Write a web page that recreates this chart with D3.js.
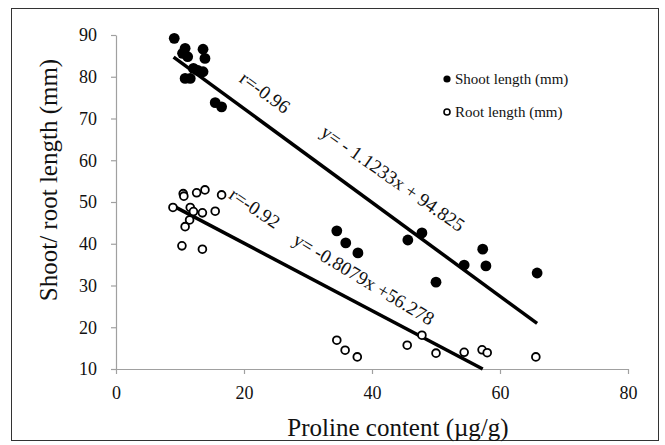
<!DOCTYPE html>
<html>
<head>
<meta charset="utf-8">
<script src="https://cdn.jsdelivr.net/npm/d3@7"></script>
<style>
  body { margin: 0; background: #fff; }
  svg text { font-family: "Liberation Serif", "Times New Roman", serif; fill: #111; }
</style>
</head>
<body>
<div id="chart"></div>
<script>
// shoot length (filled dots)
var shootX = [9.1, 10.8, 10.4, 11.2, 13.6, 13.9, 12.1, 12.8, 13.6, 10.8, 11.6, 15.5, 16.5,
  34.5, 35.9, 37.8, 45.6, 47.8, 50.0, 54.4, 57.3, 57.8, 65.8];
var shootY = [89.2, 86.8, 85.6, 84.8, 86.6, 84.4, 82.0, 81.5, 81.2, 79.6, 79.6, 73.8, 72.8,
  43.1, 40.2, 37.8, 40.9, 42.6, 30.8, 34.9, 38.7, 34.7, 33.0];
// root length (open circles)
var rootX = [8.9, 10.5, 10.6, 12.6, 13.9, 16.5, 11.6, 12.1, 13.5, 15.5, 11.5, 10.8, 10.3, 13.5,
  34.5, 35.8, 37.7, 45.5, 47.8, 50.0, 54.4, 57.2, 58.0, 65.6];
var rootY = [48.7, 52.0, 51.4, 52.2, 52.9, 51.7, 48.7, 47.7, 47.4, 47.8, 45.7, 44.1, 39.5, 38.7,
  16.9, 14.5, 12.9, 15.7, 18.1, 13.8, 14.0, 14.6, 13.9, 12.9];

var xTicks = [0, 20, 40, 60, 80];
var yTicks = [10, 20, 30, 40, 50, 60, 70, 80, 90];

// trend lines: y = a*x + b, drawn between x0 and x1
var shootFit = {a: -1.1233, b: 94.825, x0: 9, x1: 65.8};
var rootFit = {a: -0.8079, b: 56.278, x0: 9, x1: 57.3};

var width = 665, height = 445;
var svg = d3.select("#chart").append("svg").attr("width", width).attr("height", height);

svg.append("rect").attr("x", 11.5).attr("y", 8.5).attr("width", 647).attr("height", 432)
  .attr("fill", "none").attr("stroke", "#333").attr("stroke-width", 1);

var x = d3.scaleLinear().domain([0, 80]).range([116, 628]);
var y = d3.scaleLinear().domain([10, 90]).range([369, 35]);

var gx = svg.append("g").attr("transform", "translate(0," + y(10) + ")")
  .call(d3.axisBottom(x).tickValues(xTicks).tickSize(5).tickSizeOuter(0).tickPadding(12));
var gy = svg.append("g").attr("transform", "translate(" + x(0) + ",0)")
  .call(d3.axisLeft(y).tickValues(yTicks).tickSize(5).tickSizeOuter(0).tickPadding(14));
[gx, gy].forEach(function (g) {
  g.attr("font-family", "Liberation Serif").attr("font-size", 18);
  g.selectAll("path, line").attr("stroke", "#a0a0a0").attr("stroke-width", 1.2);
  g.selectAll("text").attr("fill", "#222");
});

// trend lines
[shootFit, rootFit].forEach(function (f) {
  svg.append("line")
    .attr("x1", x(f.x0)).attr("y1", y(f.a * f.x0 + f.b))
    .attr("x2", x(f.x1)).attr("y2", y(f.a * f.x1 + f.b))
    .attr("stroke", "#000").attr("stroke-width", 3.5);
});

svg.append("g").selectAll("circle").data(d3.range(shootX.length)).enter().append("circle")
  .attr("cx", function (i) { return x(shootX[i]); })
  .attr("cy", function (i) { return y(shootY[i]); })
  .attr("r", 5.4).attr("fill", "#000");

svg.append("g").selectAll("circle").data(d3.range(rootX.length)).enter().append("circle")
  .attr("cx", function (i) { return x(rootX[i]); })
  .attr("cy", function (i) { return y(rootY[i]); })
  .attr("r", 3.9).attr("fill", "#fff").attr("stroke", "#000").attr("stroke-width", 1.8);

// annotations along the lines
var notes = [
  {t: "r=-0.96", dx: 23.3, dy: 76.3, rot: 36},
  {t: "y= - 1.1233x + 94.825", dx: 43.3, dy: 55.7, rot: 35},
  {t: "r=-0.92", dx: 21.7, dy: 48.6, rot: 34},
  {t: "y= -0.8079x +56.278", dx: 38.75, dy: 31.6, rot: 31}
];
notes.forEach(function (n) {
  svg.append("text")
    .attr("transform", "translate(" + x(n.dx) + "," + y(n.dy) + ") rotate(" + n.rot + ")")
    .attr("text-anchor", "middle").attr("dy", "0.35em")
    .attr("font-size", 19).text(n.t);
});

// legend
var legend = svg.append("g").attr("transform", "translate(447,79)");
legend.append("circle").attr("cx", 0).attr("cy", 0).attr("r", 3.6).attr("fill", "#000");
legend.append("text").attr("x", 8).attr("y", 5).attr("font-size", 15).text("Shoot length (mm)");
legend.append("circle").attr("cx", 0).attr("cy", 33).attr("r", 3).attr("fill", "#fff")
  .attr("stroke", "#000").attr("stroke-width", 1.6);
legend.append("text").attr("x", 8).attr("y", 38).attr("font-size", 15).text("Root length (mm)");

// axis titles
svg.append("text").attr("x", 398).attr("y", 436)
  .attr("text-anchor", "middle").attr("font-size", 25).text("Proline content (\u00b5g/g)");
svg.append("text").attr("transform", "translate(57,180) rotate(-90)")
  .attr("text-anchor", "middle").attr("font-size", 25).text("Shoot/ root length (mm)");
</script>
</body>
</html>
